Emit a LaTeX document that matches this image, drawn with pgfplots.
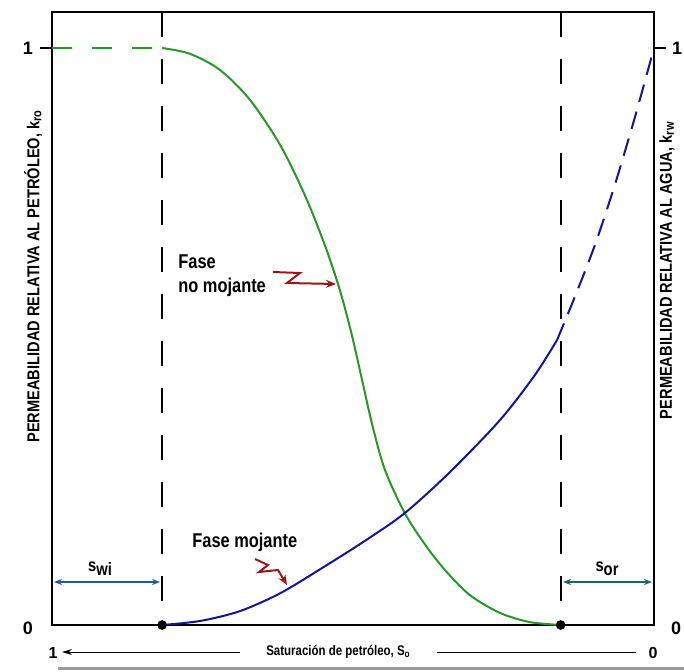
\documentclass[border=0pt]{standalone}
\usepackage{pgfplots}
\pgfplotsset{compat=1.18}
\usetikzlibrary{arrows.meta}
\usepackage{fontspec}
\setmainfont{Liberation Sans}
\newfontfamily\narrow[FakeStretch=0.82]{Liberation Sans}
\newfontfamily\lnarrow[FakeStretch=0.85]{Liberation Sans}
\definecolor{kgreen}{RGB}{40,150,40}
\definecolor{kblue}{RGB}{20,20,150}
\definecolor{kred}{RGB}{150,25,25}
\definecolor{swblue}{RGB}{30,90,160}
\definecolor{sorteal}{RGB}{25,100,100}
\begin{document}
\begin{tikzpicture}
\useasboundingbox (-26pt,-23pt) rectangle (316pt,312.5pt);
\begin{axis}[
  at={(0,0)}, anchor=south west,
  scale only axis, width=301pt, height=306.5pt,
  xmin=0, xmax=1, x dir=reverse, ymin=0, ymax=1.0624,
  axis line style={line width=1.1pt},
  xtick=\empty, ytick={1}, yticklabels={},
  ytick align=outside, major tick length=6pt,
  tick style={line width=1pt, black},
  clip=false,
]
% k_ro, dashed part
\addplot[kgreen, line width=1pt, dash pattern=on 10pt off 10pt] coordinates {(1,1) (0.817,1)};
% k_ro, solid
\addplot[kgreen, line width=1pt, smooth] coordinates {
(0.817,1.000) (0.771,0.990) (0.721,0.962) (0.671,0.910) (0.621,0.832) (0.580,0.745)
(0.547,0.659) (0.522,0.581) (0.502,0.503) (0.485,0.425) (0.468,0.347) (0.447,0.269)
(0.414,0.194) (0.380,0.139) (0.347,0.095) (0.306,0.052) (0.256,0.021) (0.206,0.005) (0.154,0.0)};
% k_rw, solid
\addplot[kblue, line width=1pt, smooth] coordinates {
(0.817,0) (0.754,0.007) (0.688,0.024) (0.621,0.055) (0.551,0.099) (0.480,0.146)
(0.414,0.194) (0.339,0.265) (0.256,0.355) (0.198,0.433) (0.161,0.494)};
% k_rw, dashed
\addplot[kblue, line width=1pt, smooth, dash pattern=on 9pt off 5pt] coordinates {
(0.161,0.494) (0.131,0.570) (0.098,0.659) (0.065,0.763) (0.032,0.879) (0,1)};
% Swi and Sor dashed verticals
\addplot[black, line width=1pt, dash pattern=on 12.5pt off 11pt] coordinates {(0.817,1.0624) (0.817,0)};
\addplot[black, line width=1pt, dash pattern=on 12.5pt off 11pt] coordinates {(0.155,1.0624) (0.155,0)};
\addplot[only marks, mark=*, mark size=2.2pt, black] coordinates {(0.817,0) (0.155,0)};
\end{axis}
\begin{scope}[x=0.5pt,y=-0.5pt,shift={(-26pt,312.5pt)}]
% tick labels
\node[font=\bfseries\fontsize{9}{10}\selectfont] at (28,48) {1};
\node[font=\bfseries\fontsize{9}{10}\selectfont] at (28,628) {0};
\node[font=\bfseries\fontsize{9}{10}\selectfont] at (677,48) {1};
\node[font=\bfseries\fontsize{9}{10}\selectfont] at (676,628) {0};
% axis titles
\node[rotate=90, anchor=east, inner sep=0pt, font=\lnarrow\bfseries\fontsize{8.6}{9}\selectfont] at (33,110)
  {PERMEABILIDAD RELATIVA AL PETR\'OLEO, k{\fontsize{6.5}{7}\selectfont\raisebox{-1pt}{ro}}};
\node[rotate=90, anchor=east, inner sep=0pt, font=\lnarrow\bfseries\fontsize{8.6}{9}\selectfont] at (667,122)
  {PERMEABILIDAD RELATIVA AL AGUA, k{\fontsize{6.5}{7}\selectfont\raisebox{-1pt}{rw}}};
% bottom scale
\node[font=\bfseries\fontsize{8}{10}\selectfont] at (53,653) {1};
\draw[line width=0.5pt, -{Stealth[length=5pt,width=3pt]}] (240,652) -- (62,652);
\node[font=\narrow\bfseries\fontsize{7}{9}\selectfont] at (338,652) {Saturaci\'on de petr\'oleo, S{\fontsize{5}{6}\selectfont\raisebox{-1pt}{o}}};
\draw[line width=0.5pt] (437,652) -- (636,652);
\node[font=\bfseries\fontsize{8}{10}\selectfont] at (653,653) {0};
\fill[black!40] (58,667) rectangle (684,670);
% annotations
\node[anchor=base west, inner sep=0pt, font=\narrow\bfseries\fontsize{10}{12}\selectfont] at (178,268) {Fase};
\node[anchor=base west, inner sep=0pt, font=\narrow\bfseries\fontsize{10}{12}\selectfont] at (178,292) {no mojante};
\node[anchor=base west, inner sep=0pt, font=\narrow\bfseries\fontsize{10}{12}\selectfont] at (192,547) {Fase mojante};
\draw[kred, line width=1pt, -{Stealth[length=5pt,width=4pt]}] (273,272) -- (300,273) -- (287,283) -- (336,284);
\draw[kred, line width=1pt, -{Stealth[length=5pt,width=4pt]}] (255,559) -- (268,565) -- (259,572) -- (278,570) -- (287,585);
% Swi / Sor
\draw[swblue, line width=0.9pt, {Stealth[length=4pt]}-{Stealth[length=4pt]}] (54,582) -- (160,582);
\node[font=\narrow\bfseries\fontsize{9}{10}\selectfont] at (100,569) {s\raisebox{-2pt}{wi}};
\draw[sorteal, line width=0.9pt, {Stealth[length=4pt]}-{Stealth[length=4pt]}] (563,582) -- (652,582);
\node[font=\narrow\bfseries\fontsize{9}{10}\selectfont] at (607,569) {s\raisebox{-2pt}{or}};
\end{scope}
\end{tikzpicture}
\end{document}
